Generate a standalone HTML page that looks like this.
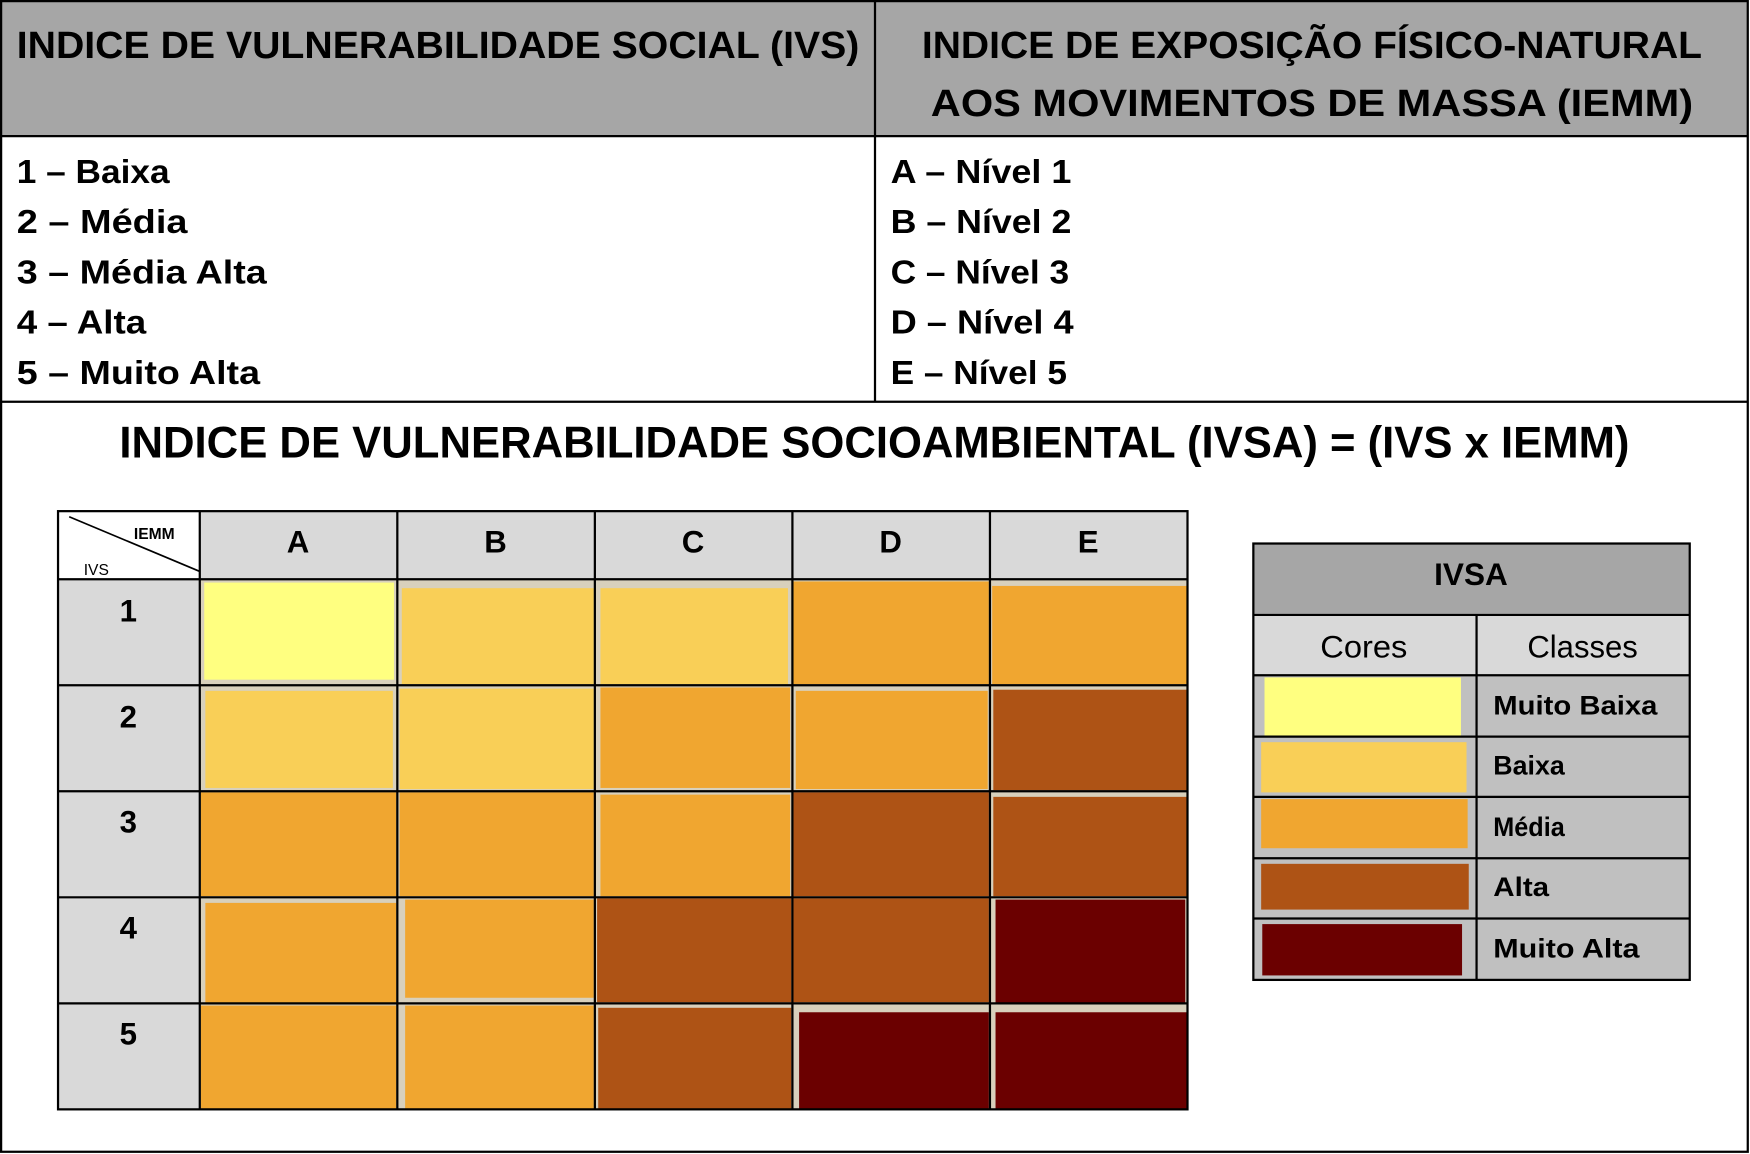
<!DOCTYPE html>
<html><head><meta charset="utf-8"><style>
html,body{margin:0;padding:0;background:#fff;}
svg{display:block;}
text{font-family:"Liberation Sans",sans-serif;font-weight:bold;fill:#000;}
</style></head><body>
<svg width="1750" height="1154" viewBox="0 0 1568 1034" preserveAspectRatio="none" xmlns="http://www.w3.org/2000/svg">
<rect x="0" y="0" width="1568" height="1034" fill="#fff"/>
<rect x="1" y="1" width="1565" height="121" fill="#a6a6a6"/>
<g stroke="#000" stroke-width="2" fill="none">
<rect x="1" y="1" width="1565" height="1031"/>
<line x1="1" y1="122" x2="1566" y2="122"/>
<line x1="1" y1="360" x2="1566" y2="360"/>
<line x1="784" y1="1" x2="784" y2="360"/>
</g>
<text x="15" y="52" font-size="34" textLength="755" lengthAdjust="spacingAndGlyphs">INDICE DE VULNERABILIDADE SOCIAL (IVS)</text>
<text x="826" y="52" font-size="34" textLength="699" lengthAdjust="spacingAndGlyphs">INDICE DE EXPOSIÇÃO FÍSICO-NATURAL</text>
<text x="834" y="104" font-size="34" textLength="683" lengthAdjust="spacingAndGlyphs">AOS MOVIMENTOS DE MASSA (IEMM)</text>
<g font-size="30">
<text x="15" y="164" textLength="137" lengthAdjust="spacingAndGlyphs">1 – Baixa</text>
<text x="15" y="209" textLength="153" lengthAdjust="spacingAndGlyphs">2 – Média</text>
<text x="15" y="254" textLength="224" lengthAdjust="spacingAndGlyphs">3 – Média Alta</text>
<text x="15" y="299" textLength="116" lengthAdjust="spacingAndGlyphs">4 – Alta</text>
<text x="15" y="344" textLength="218" lengthAdjust="spacingAndGlyphs">5 – Muito Alta</text>
<text x="798" y="164" textLength="162" lengthAdjust="spacingAndGlyphs">A – Nível 1</text>
<text x="798" y="209" textLength="162" lengthAdjust="spacingAndGlyphs">B – Nível 2</text>
<text x="798" y="254" textLength="160" lengthAdjust="spacingAndGlyphs">C – Nível 3</text>
<text x="798" y="299" textLength="164" lengthAdjust="spacingAndGlyphs">D – Nível 4</text>
<text x="798" y="344" textLength="158" lengthAdjust="spacingAndGlyphs">E – Nível 5</text>
</g>
<text x="107" y="410" font-size="40" textLength="1353" lengthAdjust="spacingAndGlyphs">INDICE DE VULNERABILIDADE SOCIOAMBIENTAL (IVSA) = (IVS x IEMM)</text>

<!-- matrix -->
<rect x="179" y="458" width="885" height="61" fill="#d9d9d9"/>
<rect x="52" y="519" width="127" height="475" fill="#d9d9d9"/>
<rect x="179" y="519" width="885" height="475" fill="#d8d0bc"/>
<g id="cells">
<rect x="183" y="522" width="170" height="87" fill="#ffff80"/>
<rect x="360" y="527" width="172" height="86" fill="#f9cf57"/>
<rect x="538" y="527" width="168" height="86" fill="#f9cf57"/>
<rect x="711" y="521" width="175" height="92" fill="#f0a630"/>
<rect x="889" y="525" width="175" height="88" fill="#f0a630"/>

<rect x="184" y="619" width="168" height="87" fill="#f9cf57"/>
<rect x="358" y="617" width="174" height="90" fill="#f9cf57"/>
<rect x="538" y="616" width="170" height="90" fill="#f0a630"/>
<rect x="713" y="619" width="172" height="88" fill="#f0a630"/>
<rect x="890" y="618" width="174" height="90" fill="#ae5315"/>

<rect x="180" y="710" width="175" height="93" fill="#f0a630"/>
<rect x="358" y="710" width="174" height="93" fill="#f0a630"/>
<rect x="538" y="712" width="170" height="91" fill="#f0a630"/>
<rect x="711" y="710" width="175" height="93" fill="#ae5315"/>
<rect x="890" y="714" width="174" height="89" fill="#ae5315"/>

<rect x="184" y="809" width="171" height="90" fill="#f0a630"/>
<rect x="363" y="806" width="169" height="88" fill="#f0a630"/>
<rect x="535" y="805" width="174" height="93" fill="#ae5315"/>
<rect x="711" y="805" width="175" height="93" fill="#ae5315"/>
<rect x="892" y="806" width="170" height="94" fill="#6b0000"/>

<rect x="180" y="901" width="175" height="93" fill="#f0a630"/>
<rect x="363" y="901" width="169" height="93" fill="#f0a630"/>
<rect x="536" y="903" width="173" height="91" fill="#ae5315"/>
<rect x="716" y="907" width="170" height="87" fill="#6b0000"/>
<rect x="892" y="907" width="172" height="87" fill="#6b0000"/>
</g>
<g stroke="#000" stroke-width="2" fill="none">
<rect x="52" y="458" width="1012" height="536"/>
<line x1="52" y1="519" x2="1064" y2="519"/>
<line x1="52" y1="614" x2="1064" y2="614"/>
<line x1="52" y1="709" x2="1064" y2="709"/>
<line x1="52" y1="804" x2="1064" y2="804"/>
<line x1="52" y1="899" x2="1064" y2="899"/>
<line x1="179" y1="458" x2="179" y2="994"/>
<line x1="356" y1="458" x2="356" y2="994"/>
<line x1="533" y1="458" x2="533" y2="994"/>
<line x1="710" y1="458" x2="710" y2="994"/>
<line x1="887" y1="458" x2="887" y2="994"/>
<line x1="62" y1="463" x2="179" y2="512" stroke-width="1.5"/>
</g>
<text x="120" y="483" font-size="14" font-weight="normal">IEMM</text>
<text x="75" y="515" font-size="14" style="font-weight:normal">IVS</text>
<g font-size="28" text-anchor="middle">
<text x="267" y="495">A</text><text x="444" y="495">B</text><text x="621" y="495">C</text><text x="798" y="495">D</text><text x="975" y="495">E</text>
<text x="115" y="557">1</text><text x="115" y="652">2</text><text x="115" y="746">3</text><text x="115" y="841">4</text><text x="115" y="936">5</text>
</g>

<!-- legend -->
<rect x="1123" y="487" width="391" height="64" fill="#a6a6a6"/>
<rect x="1123" y="551" width="391" height="54" fill="#d9d9d9"/>
<rect x="1123" y="605" width="391" height="273" fill="#c0c0c0"/>
<rect x="1133" y="607" width="176" height="52" fill="#ffff80"/>
<rect x="1130" y="665" width="184" height="45" fill="#f9cf57"/>
<rect x="1130" y="716" width="185" height="44" fill="#f0a630"/>
<rect x="1130" y="774" width="186" height="41" fill="#ae5315"/>
<rect x="1131" y="828" width="179" height="46" fill="#6b0000"/>
<g stroke="#000" stroke-width="2" fill="none">
<rect x="1123" y="487" width="391" height="391"/>
<line x1="1123" y1="551" x2="1514" y2="551"/>
<line x1="1123" y1="605" x2="1514" y2="605"/>
<line x1="1123" y1="660" x2="1514" y2="660"/>
<line x1="1123" y1="714" x2="1514" y2="714"/>
<line x1="1123" y1="769" x2="1514" y2="769"/>
<line x1="1123" y1="823" x2="1514" y2="823"/>
<line x1="1323" y1="551" x2="1323" y2="878"/>
</g>
<g font-size="28" text-anchor="middle">
<text x="1318" y="524" textLength="66" lengthAdjust="spacingAndGlyphs">IVSA</text>
<text x="1222" y="589" style="font-weight:normal" textLength="78" lengthAdjust="spacingAndGlyphs">Cores</text>
<text x="1418" y="589" style="font-weight:normal" textLength="99" lengthAdjust="spacingAndGlyphs">Classes</text>
</g>
<g font-size="24">
<text x="1338" y="640" textLength="147" lengthAdjust="spacingAndGlyphs">Muito Baixa</text>
<text x="1338" y="694" textLength="64" lengthAdjust="spacingAndGlyphs">Baixa</text>
<text x="1338" y="749" textLength="64" lengthAdjust="spacingAndGlyphs">Média</text>
<text x="1338" y="803" textLength="50" lengthAdjust="spacingAndGlyphs">Alta</text>
<text x="1338" y="858" textLength="131" lengthAdjust="spacingAndGlyphs">Muito Alta</text>
</g>
</svg>
</body></html>
